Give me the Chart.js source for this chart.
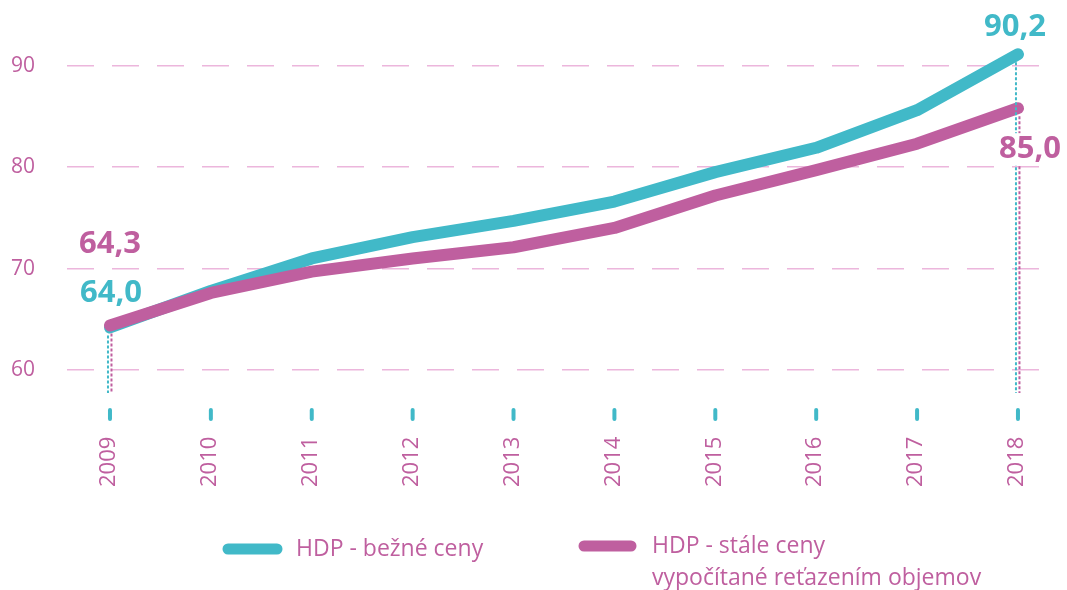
<!DOCTYPE html>
<html>
<head>
<meta charset="utf-8">
<script src="https://cdn.jsdelivr.net/npm/chart.js@4"></script>
<style>
  html, body { margin: 0; padding: 0; background: #fff; }
  #wrap { width: 1067px; height: 590px; position: relative; }
</style>
</head>
<body>
<div id="wrap"><canvas id="hdpChart" width="1067" height="590"></canvas></div>
<script>
// Data
const years = [2009, 2010, 2011, 2012, 2013, 2014, 2015, 2016, 2017, 2018];
const bezneCeny = [64.2, 67.8, 71.0, 73.1, 74.7, 76.6, 79.5, 81.9, 85.6, 91.1];
const staleCeny = [64.4, 67.6, 69.7, 71.0, 72.1, 74.0, 77.2, 79.7, 82.3, 85.8];
const yTicks = [60, 70, 80, 90];
const bezneLabels = ['64,0', '90,2']; // first, last
const staleLabels = ['64,3', '85,0'];
const legendBezne = 'HDP - bežné ceny';
const legendStale = ['HDP - stále ceny', 'vypočítané reťazením objemov'];

const TEAL = '#41b9c8';
const MAGENTA = '#bf5f9f';
const GRID = '#ecb6dc';
const FONT = '"Open Sans", "Noto Sans", sans-serif';

const toPoints = arr => arr.map((v, i) => ({ x: years[i], y: v }));

// Extra drawing: dotted drops, value labels, x ticks/labels, legend
const decorPlugin = {
    id: 'decor',
    afterDatasetsDraw(chart) {
        const { ctx, scales: { x, y } } = chart;
        const bottomY = 393;

        // dotted vertical lines at first and last year
        const drops = [
            { data: bezneCeny, color: TEAL, dx: -2 },
            { data: staleCeny, color: MAGENTA, dx: 1.5 }
        ];
        ctx.save();
        ctx.lineWidth = 2;
        ctx.setLineDash([3, 2]);
        drops.forEach(d => {
            [0, years.length - 1].forEach(i => {
                const px = x.getPixelForValue(years[i]) + d.dx;
                const py = y.getPixelForValue(d.data[i]);
                ctx.strokeStyle = d.color;
                ctx.beginPath();
                ctx.moveTo(px, py + 8);
                ctx.lineTo(px, bottomY);
                ctx.stroke();
            });
        });
        ctx.restore();

        // value labels
        const last = years.length - 1;
        const labels = [
            { text: staleLabels[0], color: MAGENTA, x: x.getPixelForValue(years[0]), y: y.getPixelForValue(staleCeny[0]) - 72 },
            { text: bezneLabels[0], color: TEAL, x: x.getPixelForValue(years[0]) + 1, y: y.getPixelForValue(bezneCeny[0]) - 25 },
            { text: bezneLabels[1], color: TEAL, x: x.getPixelForValue(years[last]) - 3, y: y.getPixelForValue(bezneCeny[last]) - 18, bg: false },
            { text: staleLabels[1], color: MAGENTA, x: x.getPixelForValue(years[last]) + 12, y: y.getPixelForValue(staleCeny[last]) + 50, bg: true }
        ];
        ctx.save();
        ctx.font = 'bold 31px ' + FONT;
        ctx.textAlign = 'center';
        ctx.textBaseline = 'alphabetic';
        labels.forEach(l => {
            if (l.bg) {
                const w = ctx.measureText(l.text).width;
                ctx.fillStyle = '#fff';
                ctx.fillRect(l.x - w / 2 - 3, l.y - 25, w + 6, 32);
            }
            ctx.fillStyle = l.color;
            ctx.fillText(l.text, l.x, l.y);
        });
        ctx.restore();

        // x ticks and rotated year labels
        ctx.save();
        years.forEach(yr => {
            const px = x.getPixelForValue(yr);
            ctx.strokeStyle = TEAL;
            ctx.lineWidth = 4;
            ctx.lineCap = 'round';
            ctx.beginPath();
            ctx.moveTo(px, 410);
            ctx.lineTo(px, 419);
            ctx.stroke();

            ctx.save();
            ctx.translate(px - 1, 487);
            ctx.rotate(-Math.PI / 2);
            ctx.font = '22px ' + FONT;
            ctx.fillStyle = MAGENTA;
            ctx.textAlign = 'left';
            ctx.textBaseline = 'middle';
            ctx.fillText(String(yr), 0, 0);
            ctx.restore();
        });
        ctx.restore();

        // legend
        ctx.save();
        ctx.lineCap = 'round';
        ctx.lineWidth = 11;
        ctx.strokeStyle = TEAL;
        ctx.beginPath(); ctx.moveTo(228, 549); ctx.lineTo(277, 549); ctx.stroke();
        ctx.strokeStyle = MAGENTA;
        ctx.beginPath(); ctx.moveTo(584, 546); ctx.lineTo(631, 546); ctx.stroke();
        ctx.font = '23px ' + FONT;
        ctx.fillStyle = MAGENTA;
        ctx.textAlign = 'left';
        ctx.textBaseline = 'middle';
        ctx.fillText(legendBezne, 296, 549);
        ctx.fillText(legendStale[0], 652, 546);
        ctx.fillText(legendStale[1], 652, 578);
        ctx.restore();
    }
};

const ctx = document.getElementById('hdpChart').getContext('2d');
window.hdpChart = new Chart(ctx, {
    type: 'line',
    data: {
        datasets: [
            {
                label: legendStale.join(' '),
                data: toPoints(staleCeny),
                borderColor: MAGENTA,
                borderWidth: 12,
                borderCapStyle: 'round',
                borderJoinStyle: 'round',
                pointRadius: 0,
                tension: 0,
                clip: false,
                order: 0
            },
            {
                label: legendBezne,
                data: toPoints(bezneCeny),
                borderColor: TEAL,
                borderWidth: 12,
                borderCapStyle: 'round',
                borderJoinStyle: 'round',
                pointRadius: 0,
                tension: 0,
                clip: false,
                order: 1
            }
        ]
    },
    options: {
        responsive: false,
        animation: false,
        layout: { padding: { left: 0, right: 22, top: 13, bottom: 194.5 } },
        plugins: {
            legend: { display: false },
            tooltip: { enabled: false }
        },
        scales: {
            x: {
                type: 'linear',
                min: 2008.574,
                max: 2018.268,
                display: false
            },
            y: {
                min: 57.5,
                max: 92.06,
                afterBuildTicks: scale => { scale.ticks = yTicks.map(v => ({ value: v })); },
                afterFit: scale => { scale.width = 67; },
                border: { display: false, dash: [27, 18] },
                grid: {
                    color: GRID,
                    lineWidth: 1.5,
                    drawTicks: false
                },
                ticks: {
                    color: MAGENTA,
                    padding: 32,
                    font: { family: FONT, size: 21 }
                }
            }
        }
    },
    plugins: [decorPlugin]
});
</script>
</body>
</html>
